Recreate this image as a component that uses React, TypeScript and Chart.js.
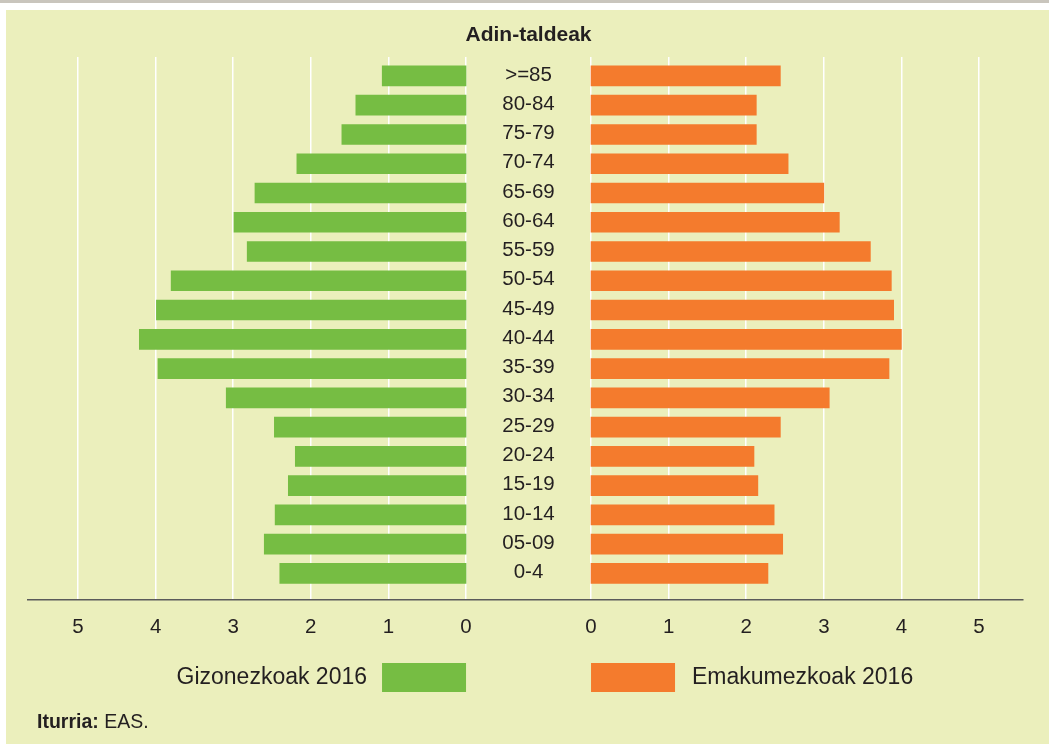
import React, { useEffect, useRef } from 'react';
import { Chart, registerables } from 'chart.js';

Chart.register(...registerables);

// ---- data ----
const AGE_GROUPS = ['>=85', '80-84', '75-79', '70-74', '65-69', '60-64', '55-59', '50-54', '45-49', '40-44', '35-39', '30-34', '25-29', '20-24', '15-19', '10-14', '05-09', '0-4'];
const MEN_2016 = [1.08, 1.42, 1.6, 2.18, 2.72, 2.99, 2.82, 3.8, 3.99, 4.21, 3.97, 3.09, 2.47, 2.2, 2.29, 2.46, 2.6, 2.4];
const WOMEN_2016 = [2.44, 2.13, 2.13, 2.54, 3.0, 3.2, 3.6, 3.87, 3.9, 4.0, 3.84, 3.07, 2.44, 2.1, 2.15, 2.36, 2.47, 2.28];
const TICK_VALUES = [0, 1, 2, 3, 4, 5];
const MEN_LABEL = 'Gizonezkoak 2016';
const WOMEN_LABEL = 'Emakumezkoak 2016';
const TITLE = 'Adin-taldeak';
const SOURCE_BOLD = 'Iturria:';
const SOURCE_TEXT = ' EAS.';

// ---- style ----
const W = 1049;
const H = 744;
const FONT = '"Liberation Sans", Arial, Helvetica, sans-serif';
const BG = '#ebefbc';
const GREEN = '#76bd43';
const ORANGE = '#f47b2d';
const TEXT = '#231f20';
const GAP = 0.8054; // half gap between the two halves, in axis units

export default function App() {
  const ref = useRef<HTMLCanvasElement>(null);

  useEffect(() => {
    document.body.style.margin = '0';
    const canvas = ref.current;
    if (!canvas) return;

    const tickPositions: number[] = [];
    const tickLabels: string[] = [];
    TICK_VALUES.slice().reverse().forEach((v) => {
      tickPositions.push(-GAP - v);
      tickLabels.push(String(v));
    });
    TICK_VALUES.forEach((v) => {
      tickPositions.push(GAP + v);
      tickLabels.push(String(v));
    });

    const decor = {
      id: 'decor',
      beforeDraw(chart: any) {
        const ctx = chart.ctx;
        ctx.save();
        ctx.fillStyle = '#ffffff';
        ctx.fillRect(0, 0, W, H);
        ctx.fillStyle = '#c9c5bd';
        ctx.fillRect(0, 0, W, 3);
        ctx.fillStyle = BG;
        ctx.fillRect(6, 10, W - 6, H - 10);
        ctx.restore();
      },
      afterDraw(chart: any) {
        const ctx = chart.ctx;
        const xs = chart.scales.x;
        const ys = chart.scales.y;
        const leftZero = xs.getPixelForValue(-GAP);
        const rightZero = xs.getPixelForValue(GAP);
        const cx = (leftZero + rightZero) / 2;
        ctx.save();
        ctx.fillStyle = TEXT;
        // title
        ctx.font = `bold 21px ${FONT}`;
        ctx.textAlign = 'center';
        ctx.textBaseline = 'middle';
        ctx.fillText(TITLE, cx, 35);
        // category labels
        ctx.font = `20.5px ${FONT}`;
        AGE_GROUPS.forEach((g, i) => {
          ctx.fillText(g, cx, ys.getPixelForValue(i) - 1);
        });
        // legend
        const ds = chart.data.datasets;
        ctx.fillStyle = ds[0].backgroundColor;
        ctx.fillRect(leftZero - 84, 663, 84, 29);
        ctx.fillStyle = ds[1].backgroundColor;
        ctx.fillRect(rightZero, 663, 84, 29);
        ctx.fillStyle = TEXT;
        ctx.font = `23px ${FONT}`;
        ctx.textAlign = 'right';
        ctx.fillText(ds[0].label, leftZero - 99, 678);
        ctx.textAlign = 'left';
        ctx.fillText(ds[1].label, rightZero + 101, 678);
        // source
        ctx.font = `bold 19.5px ${FONT}`;
        ctx.textAlign = 'left';
        ctx.fillText(SOURCE_BOLD, 37, 723);
        const bw = ctx.measureText(SOURCE_BOLD).width;
        ctx.font = `19.5px ${FONT}`;
        ctx.fillText(SOURCE_TEXT, 37 + bw, 723);
        ctx.restore();
      },
    };

    const chart = new Chart(canvas, {
      type: 'bar',
      data: {
        datasets: [
          {
            label: MEN_LABEL,
            data: MEN_2016.map((v, i) => ({ y: i, x: [-GAP - v, -GAP] })) as any,
            backgroundColor: GREEN,
            borderWidth: 0,
            barThickness: 20,
            grouped: false,
          } as any,
          {
            label: WOMEN_LABEL,
            data: WOMEN_2016.map((v, i) => ({ y: i, x: [GAP, GAP + v] })) as any,
            backgroundColor: ORANGE,
            borderWidth: 0,
            barThickness: 20,
            grouped: false,
          } as any,
        ],
      },
      options: {
        indexAxis: 'y',
        responsive: false,
        devicePixelRatio: 1,
        animation: false,
        layout: { padding: { left: 28, right: 26, top: 57, bottom: 88 } },
        plugins: {
          legend: { display: false },
          title: { display: false },
          tooltip: { enabled: false },
        },
        scales: {
          x: {
            type: 'linear',
            min: -6.45,
            max: 6.372,
            afterBuildTicks: (scale: any) => {
              scale.ticks = tickPositions.map((v) => ({ value: v }));
            },
            ticks: {
              callback: (_v: any, idx: number) => tickLabels[idx],
              font: { family: FONT, size: 20.5 },
              color: TEXT,
              padding: 16,
              autoSkip: false,
              maxRotation: 0,
            },
            grid: { color: '#ffffff', lineWidth: 1.5, drawTicks: false },
            border: { display: true, color: '#5a5a5a', width: 1.5 },
          },
          y: {
            type: 'linear',
            reverse: true,
            offset: false,
            min: -0.647,
            max: 17.888,
            display: false,
          },
        },
      } as any,
      plugins: [decor],
    });
    return () => chart.destroy();
  }, []);

  return <canvas ref={ref} width={W} height={H} style={{ display: 'block' }} />;
}
